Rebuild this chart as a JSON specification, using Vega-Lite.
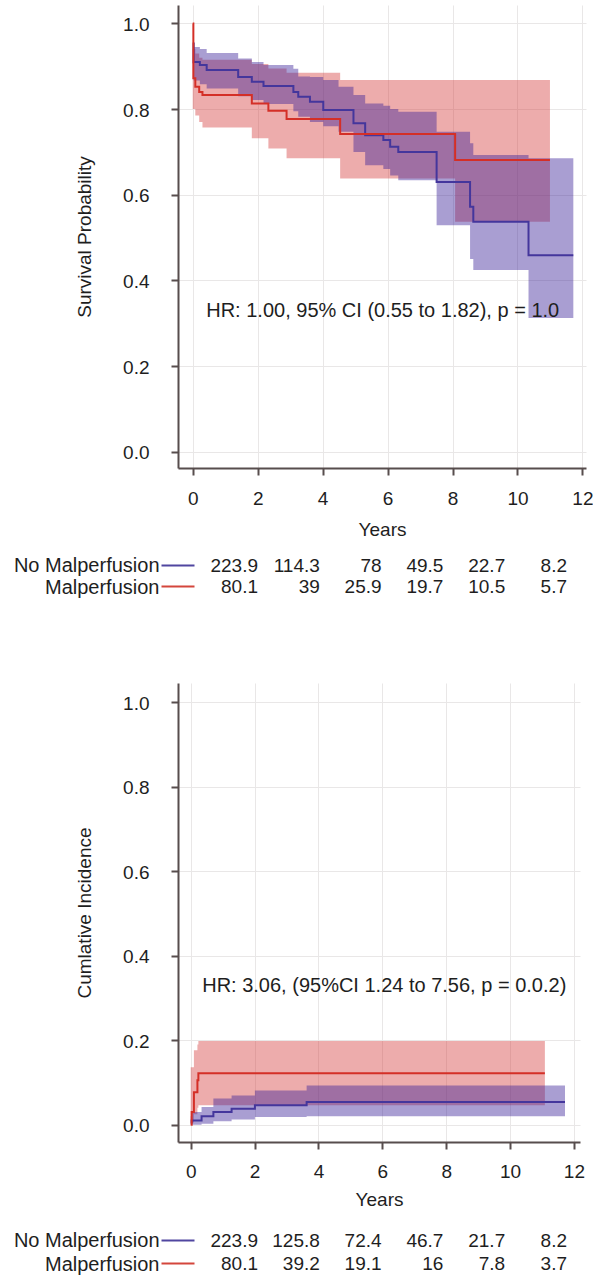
{
  "$schema": "https://vega.github.io/schema/vega-lite/v6.json",
  "padding": {"left": 13, "top": 5, "right": 0, "bottom": 0},
  "spacing": 85,
  "bounds": "flush",
  "config": {
    "view": {"stroke": null},
    "font": "Liberation Sans",
    "axis": {"domainColor": "#574d4d", "domainWidth": 2, "tickColor": "#574d4d", "tickWidth": 2, "tickSize": 7, "gridColor": "#e9e7e7", "gridWidth": 1, "labelFont": "Liberation Sans", "labelFontSize": 19, "labelColor": "#1e1e1e", "titleFont": "Liberation Sans", "titleFontSize": 19, "titleFontWeight": "normal", "titleColor": "#1e1e1e"},
    "axisX": {"labelBaseline": "alphabetic", "labelFlush": false, "labelOverlap": false, "labelPadding": 29, "titleBaseline": "alphabetic", "titleY": 67},
    "axisY": {"labelBaseline": "alphabetic", "labelOffset": 7, "labelOverlap": false, "labelPadding": 22, "titleBaseline": "alphabetic", "titleX": -88}
  },
  "datasets": {
    "km": [
      {"grp": "Malperfusion", "t": 0, "est": 1.0, "lo": 0.80, "hi": 0.94},
      {"grp": "Malperfusion", "t": 0.02, "est": 0.872, "lo": 0.80, "hi": 0.94},
      {"grp": "Malperfusion", "t": 0.08, "est": 0.852, "lo": 0.785, "hi": 0.93},
      {"grp": "Malperfusion", "t": 0.2, "est": 0.84, "lo": 0.77, "hi": 0.92},
      {"grp": "Malperfusion", "t": 0.3, "est": 0.833, "lo": 0.757, "hi": 0.915},
      {"grp": "Malperfusion", "t": 1.82, "est": 0.813, "lo": 0.732, "hi": 0.905},
      {"grp": "Malperfusion", "t": 2.33, "est": 0.796, "lo": 0.708, "hi": 0.895},
      {"grp": "Malperfusion", "t": 2.89, "est": 0.777, "lo": 0.685, "hi": 0.885},
      {"grp": "Malperfusion", "t": 4.54, "est": 0.742, "lo": 0.638, "hi": 0.868},
      {"grp": "Malperfusion", "t": 8.08, "est": 0.681, "lo": 0.537, "hi": 0.868},
      {"grp": "Malperfusion", "t": 11.0, "est": 0.681, "lo": 0.537, "hi": 0.868},
      {"grp": "No Malperfusion", "t": 0, "est": 0.953, "lo": 0.905, "hi": 0.955},
      {"grp": "No Malperfusion", "t": 0.03, "est": 0.91, "lo": 0.867, "hi": 0.945},
      {"grp": "No Malperfusion", "t": 0.22, "est": 0.903, "lo": 0.858, "hi": 0.94},
      {"grp": "No Malperfusion", "t": 0.43, "est": 0.891, "lo": 0.848, "hi": 0.931},
      {"grp": "No Malperfusion", "t": 1.4, "est": 0.875, "lo": 0.83, "hi": 0.918},
      {"grp": "No Malperfusion", "t": 1.82, "est": 0.864, "lo": 0.821, "hi": 0.91},
      {"grp": "No Malperfusion", "t": 2.18, "est": 0.854, "lo": 0.812, "hi": 0.903},
      {"grp": "No Malperfusion", "t": 3.1, "est": 0.84, "lo": 0.795, "hi": 0.894},
      {"grp": "No Malperfusion", "t": 3.25, "est": 0.829, "lo": 0.782, "hi": 0.876},
      {"grp": "No Malperfusion", "t": 3.61, "est": 0.817, "lo": 0.77, "hi": 0.875},
      {"grp": "No Malperfusion", "t": 4.02, "est": 0.798, "lo": 0.76, "hi": 0.868},
      {"grp": "No Malperfusion", "t": 4.49, "est": 0.798, "lo": 0.747, "hi": 0.852},
      {"grp": "No Malperfusion", "t": 4.95, "est": 0.767, "lo": 0.70, "hi": 0.833},
      {"grp": "No Malperfusion", "t": 5.31, "est": 0.739, "lo": 0.669, "hi": 0.813},
      {"grp": "No Malperfusion", "t": 5.87, "est": 0.728, "lo": 0.66, "hi": 0.808},
      {"grp": "No Malperfusion", "t": 6.08, "est": 0.712, "lo": 0.645, "hi": 0.80},
      {"grp": "No Malperfusion", "t": 6.33, "est": 0.70, "lo": 0.634, "hi": 0.794},
      {"grp": "No Malperfusion", "t": 7.51, "est": 0.63, "lo": 0.529, "hi": 0.747},
      {"grp": "No Malperfusion", "t": 8.54, "est": 0.572, "lo": 0.45, "hi": 0.72},
      {"grp": "No Malperfusion", "t": 8.64, "est": 0.537, "lo": 0.424, "hi": 0.693},
      {"grp": "No Malperfusion", "t": 10.34, "est": 0.459, "lo": 0.312, "hi": 0.685},
      {"grp": "No Malperfusion", "t": 11.72, "est": 0.459, "lo": 0.312, "hi": 0.685}
    ],
    "ci": [
      {"grp": "Malperfusion", "t": 0, "est": 0.0, "lo": 0.0, "hi": 0.136},
      {"grp": "Malperfusion", "t": 0.03, "est": 0.03, "lo": 0.005, "hi": 0.136},
      {"grp": "Malperfusion", "t": 0.1, "est": 0.077, "lo": 0.025, "hi": 0.176},
      {"grp": "Malperfusion", "t": 0.21, "est": 0.105, "lo": 0.04, "hi": 0.19},
      {"grp": "Malperfusion", "t": 0.24, "est": 0.122, "lo": 0.046, "hi": 0.198},
      {"grp": "Malperfusion", "t": 11.09, "est": 0.122, "lo": 0.046, "hi": 0.198},
      {"grp": "No Malperfusion", "t": 0, "est": 0.005, "lo": 0.0, "hi": 0.02},
      {"grp": "No Malperfusion", "t": 0.03, "est": 0.01, "lo": 0.0, "hi": 0.03},
      {"grp": "No Malperfusion", "t": 0.34, "est": 0.02, "lo": 0.002, "hi": 0.042},
      {"grp": "No Malperfusion", "t": 0.71, "est": 0.03, "lo": 0.008, "hi": 0.062},
      {"grp": "No Malperfusion", "t": 1.28, "est": 0.038, "lo": 0.012, "hi": 0.069},
      {"grp": "No Malperfusion", "t": 2.01, "est": 0.046, "lo": 0.018, "hi": 0.081},
      {"grp": "No Malperfusion", "t": 3.63, "est": 0.054, "lo": 0.02, "hi": 0.093},
      {"grp": "No Malperfusion", "t": 11.72, "est": 0.054, "lo": 0.02, "hi": 0.093}
    ],
    "risk1": [
      {"grp": "No Malperfusion", "t": 0, "n": 223.9},
      {"grp": "No Malperfusion", "t": 2, "n": 114.3},
      {"grp": "No Malperfusion", "t": 4, "n": 78},
      {"grp": "No Malperfusion", "t": 6, "n": 49.5},
      {"grp": "No Malperfusion", "t": 8, "n": 22.7},
      {"grp": "No Malperfusion", "t": 10, "n": 8.2},
      {"grp": "Malperfusion", "t": 0, "n": 80.1},
      {"grp": "Malperfusion", "t": 2, "n": 39},
      {"grp": "Malperfusion", "t": 4, "n": 25.9},
      {"grp": "Malperfusion", "t": 6, "n": 19.7},
      {"grp": "Malperfusion", "t": 8, "n": 10.5},
      {"grp": "Malperfusion", "t": 10, "n": 5.7}
    ],
    "risk2": [
      {"grp": "No Malperfusion", "t": 0, "n": 223.9},
      {"grp": "No Malperfusion", "t": 2, "n": 125.8},
      {"grp": "No Malperfusion", "t": 4, "n": 72.4},
      {"grp": "No Malperfusion", "t": 6, "n": 46.7},
      {"grp": "No Malperfusion", "t": 8, "n": 21.7},
      {"grp": "No Malperfusion", "t": 10, "n": 8.2},
      {"grp": "Malperfusion", "t": 0, "n": 80.1},
      {"grp": "Malperfusion", "t": 2, "n": 39.2},
      {"grp": "Malperfusion", "t": 4, "n": 19.1},
      {"grp": "Malperfusion", "t": 6, "n": 16},
      {"grp": "Malperfusion", "t": 8, "n": 7.8},
      {"grp": "Malperfusion", "t": 10, "n": 3.7}
    ]
  },
  "vconcat": [
    {
      "width": 408,
      "height": 463,
      "encoding": {
        "x": {"field": "t", "type": "quantitative", "scale": {"domain": [-0.453, 12.11], "nice": false, "zero": false}, "axis": {"values": [0, 2, 4, 6, 8, 10, 12], "format": "d", "title": "Years"}}
      },
      "layer": [
        {
          "data": {"name": "km"},
          "transform": [{"filter": "datum.grp === 'Malperfusion'"}],
          "mark": {"type": "area", "interpolate": "step-after", "color": "#d43a3a", "opacity": 0.42},
          "encoding": {
            "y": {"field": "lo", "type": "quantitative", "scale": {"domain": [-0.038, 1.043], "nice": false, "zero": false}, "axis": {"values": [0, 0.2, 0.4, 0.6, 0.8, 1.0], "format": ".1f", "title": "Survival Probability"}},
            "y2": {"field": "hi"}
          }
        },
        {
          "data": {"name": "km"},
          "transform": [{"filter": "datum.grp === 'No Malperfusion'"}],
          "mark": {"type": "area", "interpolate": "step-after", "color": "#371e96", "opacity": 0.43},
          "encoding": {
            "y": {"field": "lo", "type": "quantitative", "scale": {"domain": [-0.038, 1.043], "nice": false, "zero": false}, "axis": {"values": [0, 0.2, 0.4, 0.6, 0.8, 1.0], "format": ".1f", "title": "Survival Probability"}},
            "y2": {"field": "hi"}
          }
        },
        {
          "data": {"name": "km"},
          "transform": [{"filter": "datum.grp === 'No Malperfusion'"}],
          "mark": {"type": "line", "interpolate": "step-after", "color": "#44369c", "strokeWidth": 2},
          "encoding": {
            "y": {"field": "est", "type": "quantitative", "scale": {"domain": [-0.038, 1.043], "nice": false, "zero": false}, "axis": {"values": [0, 0.2, 0.4, 0.6, 0.8, 1.0], "format": ".1f", "title": "Survival Probability"}}
          }
        },
        {
          "data": {"name": "km"},
          "transform": [{"filter": "datum.grp === 'Malperfusion'"}],
          "mark": {"type": "line", "interpolate": "step-after", "color": "#d42f27", "strokeWidth": 2},
          "encoding": {
            "y": {"field": "est", "type": "quantitative", "scale": {"domain": [-0.038, 1.043], "nice": false, "zero": false}, "axis": {"values": [0, 0.2, 0.4, 0.6, 0.8, 1.0], "format": ".1f", "title": "Survival Probability"}}
          }
        },
        {
          "data": {"values": [{"t": 5.85, "v": 0.331, "label": "HR: 1.00, 95% CI (0.55 to 1.82), p = 1.0"}]},
          "mark": {"type": "text", "fontSize": 20, "align": "center", "baseline": "alphabetic", "dy": 7, "color": "#1e1e1e", "font": "Liberation Sans"},
          "encoding": {
            "y": {"field": "v", "type": "quantitative", "scale": {"domain": [-0.038, 1.043], "nice": false, "zero": false}, "axis": {"values": [0, 0.2, 0.4, 0.6, 0.8, 1.0], "format": ".1f", "title": "Survival Probability"}},
            "text": {"field": "label"}
          }
        }
      ]
    },
    {
      "width": 408,
      "height": 45,
      "data": {"name": "risk1"},
      "mark": {"type": "text", "align": "right", "baseline": "alphabetic", "dy": 7, "fontSize": 19, "color": "#1e1e1e", "font": "Liberation Sans"},
      "encoding": {
        "x": {"field": "t", "type": "quantitative", "scale": {"domain": [-2.589, 10.615], "nice": false, "zero": false}, "axis": null},
        "y": {"field": "grp", "type": "nominal", "scale": {"type": "point", "domain": ["No Malperfusion", "Malperfusion"], "padding": 0.57}, "axis": {"title": null, "domain": false, "grid": false, "offset": -16, "tickSize": 33, "tickWidth": 2, "tickColor": {"condition": {"test": "datum.value === 'Malperfusion'", "value": "#d4463c"}, "value": "#5046a0"}, "labelPadding": 2, "labelFontSize": 20, "labelBaseline": "alphabetic", "labelOffset": 7}},
        "text": {"field": "n", "type": "quantitative"}
      }
    },
    {
      "width": 402,
      "height": 459,
      "encoding": {
        "x": {"field": "t", "type": "quantitative", "scale": {"domain": [-0.398, 12.19], "nice": false, "zero": false}, "axis": {"values": [0, 2, 4, 6, 8, 10, 12], "format": "d", "title": "Years", "titleY": 63, "labelPadding": 28}}
      },
      "layer": [
        {
          "data": {"name": "ci"},
          "transform": [{"filter": "datum.grp === 'Malperfusion'"}],
          "mark": {"type": "area", "interpolate": "step-after", "color": "#d43a3a", "opacity": 0.42},
          "encoding": {
            "y": {"field": "lo", "type": "quantitative", "scale": {"domain": [-0.041, 1.046], "nice": false, "zero": false}, "axis": {"values": [0, 0.2, 0.4, 0.6, 0.8, 1.0], "format": ".1f", "title": "Cumlative Incidence"}},
            "y2": {"field": "hi"}
          }
        },
        {
          "data": {"name": "ci"},
          "transform": [{"filter": "datum.grp === 'No Malperfusion'"}],
          "mark": {"type": "area", "interpolate": "step-after", "color": "#371e96", "opacity": 0.43},
          "encoding": {
            "y": {"field": "lo", "type": "quantitative", "scale": {"domain": [-0.041, 1.046], "nice": false, "zero": false}, "axis": {"values": [0, 0.2, 0.4, 0.6, 0.8, 1.0], "format": ".1f", "title": "Cumlative Incidence"}},
            "y2": {"field": "hi"}
          }
        },
        {
          "data": {"name": "ci"},
          "transform": [{"filter": "datum.grp === 'No Malperfusion'"}],
          "mark": {"type": "line", "interpolate": "step-after", "color": "#44369c", "strokeWidth": 2},
          "encoding": {
            "y": {"field": "est", "type": "quantitative", "scale": {"domain": [-0.041, 1.046], "nice": false, "zero": false}, "axis": {"values": [0, 0.2, 0.4, 0.6, 0.8, 1.0], "format": ".1f", "title": "Cumlative Incidence"}}
          }
        },
        {
          "data": {"name": "ci"},
          "transform": [{"filter": "datum.grp === 'Malperfusion'"}],
          "mark": {"type": "line", "interpolate": "step-after", "color": "#d42f27", "strokeWidth": 2},
          "encoding": {
            "y": {"field": "est", "type": "quantitative", "scale": {"domain": [-0.041, 1.046], "nice": false, "zero": false}, "axis": {"values": [0, 0.2, 0.4, 0.6, 0.8, 1.0], "format": ".1f", "title": "Cumlative Incidence"}}
          }
        },
        {
          "data": {"values": [{"t": 6.06, "v": 0.33, "label": "HR: 3.06, (95%CI 1.24 to 7.56, p = 0.0.2)"}]},
          "mark": {"type": "text", "fontSize": 20, "align": "center", "baseline": "alphabetic", "dy": 7, "color": "#1e1e1e", "font": "Liberation Sans"},
          "encoding": {
            "y": {"field": "v", "type": "quantitative", "scale": {"domain": [-0.041, 1.046], "nice": false, "zero": false}, "axis": {"values": [0, 0.2, 0.4, 0.6, 0.8, 1.0], "format": ".1f", "title": "Cumlative Incidence"}},
            "text": {"field": "label"}
          }
        }
      ]
    },
    {
      "width": 408,
      "height": 49,
      "data": {"name": "risk2"},
      "mark": {"type": "text", "align": "right", "baseline": "alphabetic", "dy": 7, "fontSize": 19, "color": "#1e1e1e", "font": "Liberation Sans"},
      "encoding": {
        "x": {"field": "t", "type": "quantitative", "scale": {"domain": [-2.589, 10.615], "nice": false, "zero": false}, "axis": null},
        "y": {"field": "grp", "type": "nominal", "scale": {"type": "point", "domain": ["No Malperfusion", "Malperfusion"], "padding": 0.565}, "axis": {"title": null, "domain": false, "grid": false, "offset": -16, "tickSize": 33, "tickWidth": 2, "tickColor": {"condition": {"test": "datum.value === 'Malperfusion'", "value": "#d4463c"}, "value": "#5046a0"}, "labelPadding": 2, "labelFontSize": 20, "labelBaseline": "alphabetic", "labelOffset": 7}},
        "text": {"field": "n", "type": "quantitative"}
      }
    }
  ]
}
